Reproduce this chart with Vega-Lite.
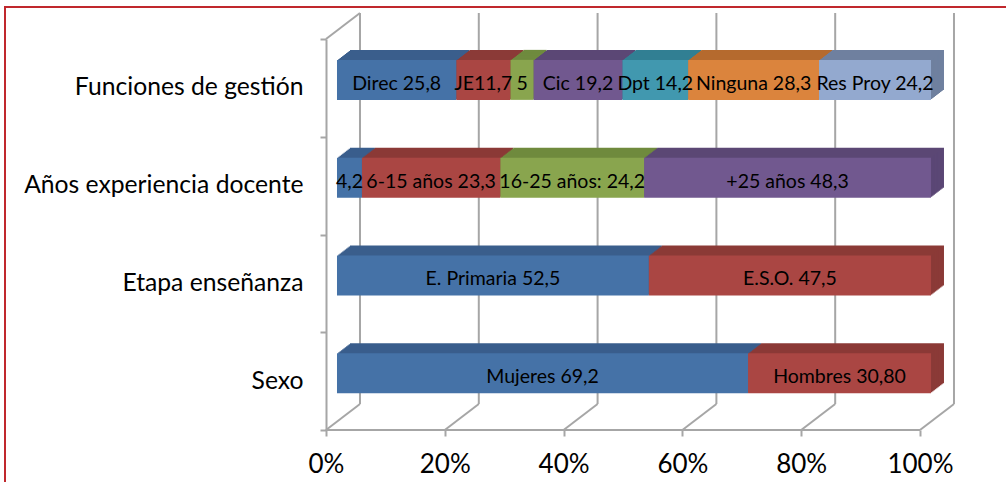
{
  "$schema": "https://vega.github.io/schema/vega-lite/v6.json",
  "width": 1007,
  "height": 481,
  "autosize": "none",
  "padding": {"left": 5, "top": 7, "right": -6, "bottom": -6},
  "background": "white",
  "config": {"view": {"stroke": "#C0282D", "strokeWidth": 2}, "font": "Lato"},
  "datasets": {
    "seg": [
      {"cat": "Funciones de gestión", "s": 1, "v": 25.8, "lab": "Direc 25,8"},
      {"cat": "Funciones de gestión", "s": 2, "v": 11.7, "lab": "JE11,7"},
      {"cat": "Funciones de gestión", "s": 3, "v": 5, "lab": "5"},
      {"cat": "Funciones de gestión", "s": 4, "v": 19.2, "lab": "Cic 19,2"},
      {"cat": "Funciones de gestión", "s": 5, "v": 14.2, "lab": "Dpt 14,2"},
      {"cat": "Funciones de gestión", "s": 6, "v": 28.3, "lab": "Ninguna 28,3"},
      {"cat": "Funciones de gestión", "s": 7, "v": 24.2, "lab": "Res Proy 24,2"},
      {"cat": "Años experiencia docente", "s": 1, "v": 4.2, "lab": "4,2"},
      {"cat": "Años experiencia docente", "s": 2, "v": 23.3, "lab": "6-15 años 23,3"},
      {"cat": "Años experiencia docente", "s": 3, "v": 24.2, "lab": "16-25 años: 24,2"},
      {"cat": "Años experiencia docente", "s": 4, "v": 48.3, "lab": "+25 años  48,3"},
      {"cat": "Etapa enseñanza", "s": 1, "v": 52.5, "lab": "E. Primaria 52,5"},
      {"cat": "Etapa enseñanza", "s": 2, "v": 47.5, "lab": "E.S.O.  47,5"},
      {"cat": "Sexo", "s": 1, "v": 69.2, "lab": "Mujeres 69,2"},
      {"cat": "Sexo", "s": 2, "v": 30.8, "lab": "Hombres 30,80"}
    ],
    "grid": [{"t": 0}, {"t": 0.2}, {"t": 0.4}, {"t": 0.6}, {"t": 0.8}, {"t": 1}],
    "corner": [{"t": 0}],
    "floor": [{"t0": 0, "t1": 1}]
  },
  "layer": [
    {
      "data": {"name": "grid"},
      "mark": {"type": "rule", "stroke": "#A6A6A6", "strokeWidth": 2, "xOffset": 34, "yOffset": -26, "y2Offset": -26},
      "encoding": {
        "x": {"field": "t", "type": "quantitative", "scale": {"domain": [-0.5404, 1.1549], "nice": false, "zero": false},
          "axis": {"values": [0, 0.2, 0.4, 0.6, 0.8, 1], "format": ".0%", "offset": -58, "domain": false, "grid": false, "tickColor": "#A6A6A6", "tickWidth": 2, "tickSize": 6, "labelFont": "Lato", "labelFontSize": 26, "labelColor": "#000000", "labelPadding": 15, "title": null}},
        "y": {"datum": "Funciones de gestión", "type": "nominal", "bandPosition": 0, "scale": {"type": "band", "domain": ["Funciones de gestión", "Años experiencia docente", "Etapa enseñanza", "Sexo"], "range": [32, 423], "paddingInner": 0, "paddingOuter": 0},
          "axis": {"offset": -321, "domainColor": "#A6A6A6", "domainWidth": 2, "tickColor": "#A6A6A6", "tickWidth": 2, "tickSize": 6, "tickBand": "extent", "grid": false, "labelFont": "Lato", "labelFontSize": 24.7, "labelColor": "#000000", "labelPadding": 17, "labelLimit": 400, "title": null}},
        "y2": {"datum": "Sexo", "bandPosition": 1}
      }
    },
    {
      "data": {"name": "grid"},
      "mark": {"type": "rule", "stroke": "#A6A6A6", "strokeWidth": 2, "x2Offset": 34, "y2Offset": -26},
      "encoding": {
        "x": {"field": "t", "type": "quantitative", "scale": {"domain": [-0.5404, 1.1549], "nice": false, "zero": false},
          "axis": {"values": [0, 0.2, 0.4, 0.6, 0.8, 1], "format": ".0%", "offset": -58, "domain": false, "grid": false, "tickColor": "#A6A6A6", "tickWidth": 2, "tickSize": 6, "labelFont": "Lato", "labelFontSize": 26, "labelColor": "#000000", "labelPadding": 15, "title": null}},
        "x2": {"field": "t"},
        "y": {"datum": "Sexo", "type": "nominal", "bandPosition": 1, "scale": {"type": "band", "domain": ["Funciones de gestión", "Años experiencia docente", "Etapa enseñanza", "Sexo"], "range": [32, 423], "paddingInner": 0, "paddingOuter": 0},
          "axis": {"offset": -321, "domainColor": "#A6A6A6", "domainWidth": 2, "tickColor": "#A6A6A6", "tickWidth": 2, "tickSize": 6, "tickBand": "extent", "grid": false, "labelFont": "Lato", "labelFontSize": 24.7, "labelColor": "#000000", "labelPadding": 17, "labelLimit": 400, "title": null}},
        "y2": {"datum": "Sexo", "bandPosition": 1}
      }
    },
    {
      "data": {"name": "corner"},
      "mark": {"type": "rule", "stroke": "#A6A6A6", "strokeWidth": 2, "x2Offset": 34, "y2Offset": -26},
      "encoding": {
        "x": {"field": "t", "type": "quantitative", "scale": {"domain": [-0.5404, 1.1549], "nice": false, "zero": false},
          "axis": {"values": [0, 0.2, 0.4, 0.6, 0.8, 1], "format": ".0%", "offset": -58, "domain": false, "grid": false, "tickColor": "#A6A6A6", "tickWidth": 2, "tickSize": 6, "labelFont": "Lato", "labelFontSize": 26, "labelColor": "#000000", "labelPadding": 15, "title": null}},
        "x2": {"field": "t"},
        "y": {"datum": "Funciones de gestión", "type": "nominal", "bandPosition": 0, "scale": {"type": "band", "domain": ["Funciones de gestión", "Años experiencia docente", "Etapa enseñanza", "Sexo"], "range": [32, 423], "paddingInner": 0, "paddingOuter": 0},
          "axis": {"offset": -321, "domainColor": "#A6A6A6", "domainWidth": 2, "tickColor": "#A6A6A6", "tickWidth": 2, "tickSize": 6, "tickBand": "extent", "grid": false, "labelFont": "Lato", "labelFontSize": 24.7, "labelColor": "#000000", "labelPadding": 17, "labelLimit": 400, "title": null}},
        "y2": {"datum": "Funciones de gestión", "bandPosition": 0}
      }
    },
    {
      "data": {"name": "floor"},
      "mark": {"type": "rule", "stroke": "#A6A6A6", "strokeWidth": 2},
      "encoding": {
        "x": {"field": "t0", "type": "quantitative", "scale": {"domain": [-0.5404, 1.1549], "nice": false, "zero": false},
          "axis": {"values": [0, 0.2, 0.4, 0.6, 0.8, 1], "format": ".0%", "offset": -58, "domain": false, "grid": false, "tickColor": "#A6A6A6", "tickWidth": 2, "tickSize": 6, "labelFont": "Lato", "labelFontSize": 26, "labelColor": "#000000", "labelPadding": 15, "title": null}},
        "x2": {"field": "t1"},
        "y": {"datum": "Sexo", "type": "nominal", "bandPosition": 1, "scale": {"type": "band", "domain": ["Funciones de gestión", "Años experiencia docente", "Etapa enseñanza", "Sexo"], "range": [32, 423], "paddingInner": 0, "paddingOuter": 0},
          "axis": {"offset": -321, "domainColor": "#A6A6A6", "domainWidth": 2, "tickColor": "#A6A6A6", "tickWidth": 2, "tickSize": 6, "tickBand": "extent", "grid": false, "labelFont": "Lato", "labelFontSize": 24.7, "labelColor": "#000000", "labelPadding": 17, "labelLimit": 400, "title": null}}
      }
    },
    {"data": {"name": "seg"}, "mark": {"type": "bar", "height": 40, "strokeWidth": 0, "xOffset": 24, "x2Offset": 24, "yOffset": -18, "y2Offset": -18},
      "encoding": {"x": {"field": "v", "type": "quantitative", "stack": "normalize", "scale": {"domain": [-0.5404, 1.1549], "nice": false, "zero": false},
          "axis": {"values": [0, 0.2, 0.4, 0.6, 0.8, 1], "format": ".0%", "offset": -58, "domain": false, "grid": false, "tickColor": "#A6A6A6", "tickWidth": 2, "tickSize": 6, "labelFont": "Lato", "labelFontSize": 26, "labelColor": "#000000", "labelPadding": 15, "title": null}},
        "y": {"field": "cat", "type": "nominal", "scale": {"type": "band", "domain": ["Funciones de gestión", "Años experiencia docente", "Etapa enseñanza", "Sexo"], "range": [32, 423], "paddingInner": 0, "paddingOuter": 0},
          "axis": {"offset": -321, "domainColor": "#A6A6A6", "domainWidth": 2, "tickColor": "#A6A6A6", "tickWidth": 2, "tickSize": 6, "tickBand": "extent", "grid": false, "labelFont": "Lato", "labelFontSize": 24.7, "labelColor": "#000000", "labelPadding": 17, "labelLimit": 400, "title": null}},
        "fill": {"field": "s", "type": "nominal", "scale": {"domain": [1, 2, 3, 4, 5, 6, 7], "range": ["#3A5E8C", "#8B3A37", "#6F8A3E", "#5B4775", "#317F93", "#B56A2E", "#6F809F"]}, "legend": null},
        "order": {"field": "s"}}},
    {"data": {"name": "seg"}, "mark": {"type": "bar", "height": 40, "strokeWidth": 0, "xOffset": 22.7, "x2Offset": 22.7, "yOffset": -17, "y2Offset": -17},
      "encoding": {"x": {"field": "v", "type": "quantitative", "stack": "normalize", "scale": {"domain": [-0.5404, 1.1549], "nice": false, "zero": false},
          "axis": {"values": [0, 0.2, 0.4, 0.6, 0.8, 1], "format": ".0%", "offset": -58, "domain": false, "grid": false, "tickColor": "#A6A6A6", "tickWidth": 2, "tickSize": 6, "labelFont": "Lato", "labelFontSize": 26, "labelColor": "#000000", "labelPadding": 15, "title": null}},
        "y": {"field": "cat", "type": "nominal", "scale": {"type": "band", "domain": ["Funciones de gestión", "Años experiencia docente", "Etapa enseñanza", "Sexo"], "range": [32, 423], "paddingInner": 0, "paddingOuter": 0},
          "axis": {"offset": -321, "domainColor": "#A6A6A6", "domainWidth": 2, "tickColor": "#A6A6A6", "tickWidth": 2, "tickSize": 6, "tickBand": "extent", "grid": false, "labelFont": "Lato", "labelFontSize": 24.7, "labelColor": "#000000", "labelPadding": 17, "labelLimit": 400, "title": null}},
        "fill": {"field": "s", "type": "nominal", "scale": {"domain": [1, 2, 3, 4, 5, 6, 7], "range": ["#3A5E8C", "#8B3A37", "#6F8A3E", "#5B4775", "#317F93", "#B56A2E", "#6F809F"]}, "legend": null},
        "order": {"field": "s"}}},
    {"data": {"name": "seg"}, "mark": {"type": "bar", "height": 40, "strokeWidth": 0, "xOffset": 21.4, "x2Offset": 21.4, "yOffset": -16, "y2Offset": -16},
      "encoding": {"x": {"field": "v", "type": "quantitative", "stack": "normalize", "scale": {"domain": [-0.5404, 1.1549], "nice": false, "zero": false},
          "axis": {"values": [0, 0.2, 0.4, 0.6, 0.8, 1], "format": ".0%", "offset": -58, "domain": false, "grid": false, "tickColor": "#A6A6A6", "tickWidth": 2, "tickSize": 6, "labelFont": "Lato", "labelFontSize": 26, "labelColor": "#000000", "labelPadding": 15, "title": null}},
        "y": {"field": "cat", "type": "nominal", "scale": {"type": "band", "domain": ["Funciones de gestión", "Años experiencia docente", "Etapa enseñanza", "Sexo"], "range": [32, 423], "paddingInner": 0, "paddingOuter": 0},
          "axis": {"offset": -321, "domainColor": "#A6A6A6", "domainWidth": 2, "tickColor": "#A6A6A6", "tickWidth": 2, "tickSize": 6, "tickBand": "extent", "grid": false, "labelFont": "Lato", "labelFontSize": 24.7, "labelColor": "#000000", "labelPadding": 17, "labelLimit": 400, "title": null}},
        "fill": {"field": "s", "type": "nominal", "scale": {"domain": [1, 2, 3, 4, 5, 6, 7], "range": ["#3A5E8C", "#8B3A37", "#6F8A3E", "#5B4775", "#317F93", "#B56A2E", "#6F809F"]}, "legend": null},
        "order": {"field": "s"}}},
    {"data": {"name": "seg"}, "mark": {"type": "bar", "height": 40, "strokeWidth": 0, "xOffset": 20.1, "x2Offset": 20.1, "yOffset": -15, "y2Offset": -15},
      "encoding": {"x": {"field": "v", "type": "quantitative", "stack": "normalize", "scale": {"domain": [-0.5404, 1.1549], "nice": false, "zero": false},
          "axis": {"values": [0, 0.2, 0.4, 0.6, 0.8, 1], "format": ".0%", "offset": -58, "domain": false, "grid": false, "tickColor": "#A6A6A6", "tickWidth": 2, "tickSize": 6, "labelFont": "Lato", "labelFontSize": 26, "labelColor": "#000000", "labelPadding": 15, "title": null}},
        "y": {"field": "cat", "type": "nominal", "scale": {"type": "band", "domain": ["Funciones de gestión", "Años experiencia docente", "Etapa enseñanza", "Sexo"], "range": [32, 423], "paddingInner": 0, "paddingOuter": 0},
          "axis": {"offset": -321, "domainColor": "#A6A6A6", "domainWidth": 2, "tickColor": "#A6A6A6", "tickWidth": 2, "tickSize": 6, "tickBand": "extent", "grid": false, "labelFont": "Lato", "labelFontSize": 24.7, "labelColor": "#000000", "labelPadding": 17, "labelLimit": 400, "title": null}},
        "fill": {"field": "s", "type": "nominal", "scale": {"domain": [1, 2, 3, 4, 5, 6, 7], "range": ["#3A5E8C", "#8B3A37", "#6F8A3E", "#5B4775", "#317F93", "#B56A2E", "#6F809F"]}, "legend": null},
        "order": {"field": "s"}}},
    {"data": {"name": "seg"}, "mark": {"type": "bar", "height": 40, "strokeWidth": 0, "xOffset": 18.8, "x2Offset": 18.8, "yOffset": -14, "y2Offset": -14},
      "encoding": {"x": {"field": "v", "type": "quantitative", "stack": "normalize", "scale": {"domain": [-0.5404, 1.1549], "nice": false, "zero": false},
          "axis": {"values": [0, 0.2, 0.4, 0.6, 0.8, 1], "format": ".0%", "offset": -58, "domain": false, "grid": false, "tickColor": "#A6A6A6", "tickWidth": 2, "tickSize": 6, "labelFont": "Lato", "labelFontSize": 26, "labelColor": "#000000", "labelPadding": 15, "title": null}},
        "y": {"field": "cat", "type": "nominal", "scale": {"type": "band", "domain": ["Funciones de gestión", "Años experiencia docente", "Etapa enseñanza", "Sexo"], "range": [32, 423], "paddingInner": 0, "paddingOuter": 0},
          "axis": {"offset": -321, "domainColor": "#A6A6A6", "domainWidth": 2, "tickColor": "#A6A6A6", "tickWidth": 2, "tickSize": 6, "tickBand": "extent", "grid": false, "labelFont": "Lato", "labelFontSize": 24.7, "labelColor": "#000000", "labelPadding": 17, "labelLimit": 400, "title": null}},
        "fill": {"field": "s", "type": "nominal", "scale": {"domain": [1, 2, 3, 4, 5, 6, 7], "range": ["#3A5E8C", "#8B3A37", "#6F8A3E", "#5B4775", "#317F93", "#B56A2E", "#6F809F"]}, "legend": null},
        "order": {"field": "s"}}},
    {"data": {"name": "seg"}, "mark": {"type": "bar", "height": 40, "strokeWidth": 0, "xOffset": 17.5, "x2Offset": 17.5, "yOffset": -13, "y2Offset": -13},
      "encoding": {"x": {"field": "v", "type": "quantitative", "stack": "normalize", "scale": {"domain": [-0.5404, 1.1549], "nice": false, "zero": false},
          "axis": {"values": [0, 0.2, 0.4, 0.6, 0.8, 1], "format": ".0%", "offset": -58, "domain": false, "grid": false, "tickColor": "#A6A6A6", "tickWidth": 2, "tickSize": 6, "labelFont": "Lato", "labelFontSize": 26, "labelColor": "#000000", "labelPadding": 15, "title": null}},
        "y": {"field": "cat", "type": "nominal", "scale": {"type": "band", "domain": ["Funciones de gestión", "Años experiencia docente", "Etapa enseñanza", "Sexo"], "range": [32, 423], "paddingInner": 0, "paddingOuter": 0},
          "axis": {"offset": -321, "domainColor": "#A6A6A6", "domainWidth": 2, "tickColor": "#A6A6A6", "tickWidth": 2, "tickSize": 6, "tickBand": "extent", "grid": false, "labelFont": "Lato", "labelFontSize": 24.7, "labelColor": "#000000", "labelPadding": 17, "labelLimit": 400, "title": null}},
        "fill": {"field": "s", "type": "nominal", "scale": {"domain": [1, 2, 3, 4, 5, 6, 7], "range": ["#3A5E8C", "#8B3A37", "#6F8A3E", "#5B4775", "#317F93", "#B56A2E", "#6F809F"]}, "legend": null},
        "order": {"field": "s"}}},
    {"data": {"name": "seg"}, "mark": {"type": "bar", "height": 40, "strokeWidth": 0, "xOffset": 16.2, "x2Offset": 16.2, "yOffset": -12, "y2Offset": -12},
      "encoding": {"x": {"field": "v", "type": "quantitative", "stack": "normalize", "scale": {"domain": [-0.5404, 1.1549], "nice": false, "zero": false},
          "axis": {"values": [0, 0.2, 0.4, 0.6, 0.8, 1], "format": ".0%", "offset": -58, "domain": false, "grid": false, "tickColor": "#A6A6A6", "tickWidth": 2, "tickSize": 6, "labelFont": "Lato", "labelFontSize": 26, "labelColor": "#000000", "labelPadding": 15, "title": null}},
        "y": {"field": "cat", "type": "nominal", "scale": {"type": "band", "domain": ["Funciones de gestión", "Años experiencia docente", "Etapa enseñanza", "Sexo"], "range": [32, 423], "paddingInner": 0, "paddingOuter": 0},
          "axis": {"offset": -321, "domainColor": "#A6A6A6", "domainWidth": 2, "tickColor": "#A6A6A6", "tickWidth": 2, "tickSize": 6, "tickBand": "extent", "grid": false, "labelFont": "Lato", "labelFontSize": 24.7, "labelColor": "#000000", "labelPadding": 17, "labelLimit": 400, "title": null}},
        "fill": {"field": "s", "type": "nominal", "scale": {"domain": [1, 2, 3, 4, 5, 6, 7], "range": ["#3A5E8C", "#8B3A37", "#6F8A3E", "#5B4775", "#317F93", "#B56A2E", "#6F809F"]}, "legend": null},
        "order": {"field": "s"}}},
    {"data": {"name": "seg"}, "mark": {"type": "bar", "height": 40, "strokeWidth": 0, "xOffset": 14.9, "x2Offset": 14.9, "yOffset": -11, "y2Offset": -11},
      "encoding": {"x": {"field": "v", "type": "quantitative", "stack": "normalize", "scale": {"domain": [-0.5404, 1.1549], "nice": false, "zero": false},
          "axis": {"values": [0, 0.2, 0.4, 0.6, 0.8, 1], "format": ".0%", "offset": -58, "domain": false, "grid": false, "tickColor": "#A6A6A6", "tickWidth": 2, "tickSize": 6, "labelFont": "Lato", "labelFontSize": 26, "labelColor": "#000000", "labelPadding": 15, "title": null}},
        "y": {"field": "cat", "type": "nominal", "scale": {"type": "band", "domain": ["Funciones de gestión", "Años experiencia docente", "Etapa enseñanza", "Sexo"], "range": [32, 423], "paddingInner": 0, "paddingOuter": 0},
          "axis": {"offset": -321, "domainColor": "#A6A6A6", "domainWidth": 2, "tickColor": "#A6A6A6", "tickWidth": 2, "tickSize": 6, "tickBand": "extent", "grid": false, "labelFont": "Lato", "labelFontSize": 24.7, "labelColor": "#000000", "labelPadding": 17, "labelLimit": 400, "title": null}},
        "fill": {"field": "s", "type": "nominal", "scale": {"domain": [1, 2, 3, 4, 5, 6, 7], "range": ["#3A5E8C", "#8B3A37", "#6F8A3E", "#5B4775", "#317F93", "#B56A2E", "#6F809F"]}, "legend": null},
        "order": {"field": "s"}}},
    {"data": {"name": "seg"}, "mark": {"type": "bar", "height": 40, "strokeWidth": 0, "xOffset": 13.6, "x2Offset": 13.6, "yOffset": -10, "y2Offset": -10},
      "encoding": {"x": {"field": "v", "type": "quantitative", "stack": "normalize", "scale": {"domain": [-0.5404, 1.1549], "nice": false, "zero": false},
          "axis": {"values": [0, 0.2, 0.4, 0.6, 0.8, 1], "format": ".0%", "offset": -58, "domain": false, "grid": false, "tickColor": "#A6A6A6", "tickWidth": 2, "tickSize": 6, "labelFont": "Lato", "labelFontSize": 26, "labelColor": "#000000", "labelPadding": 15, "title": null}},
        "y": {"field": "cat", "type": "nominal", "scale": {"type": "band", "domain": ["Funciones de gestión", "Años experiencia docente", "Etapa enseñanza", "Sexo"], "range": [32, 423], "paddingInner": 0, "paddingOuter": 0},
          "axis": {"offset": -321, "domainColor": "#A6A6A6", "domainWidth": 2, "tickColor": "#A6A6A6", "tickWidth": 2, "tickSize": 6, "tickBand": "extent", "grid": false, "labelFont": "Lato", "labelFontSize": 24.7, "labelColor": "#000000", "labelPadding": 17, "labelLimit": 400, "title": null}},
        "fill": {"field": "s", "type": "nominal", "scale": {"domain": [1, 2, 3, 4, 5, 6, 7], "range": ["#3A5E8C", "#8B3A37", "#6F8A3E", "#5B4775", "#317F93", "#B56A2E", "#6F809F"]}, "legend": null},
        "order": {"field": "s"}}},
    {"data": {"name": "seg"}, "mark": {"type": "bar", "height": 40, "strokeWidth": 0, "xOffset": 12.3, "x2Offset": 12.3, "yOffset": -9, "y2Offset": -9},
      "encoding": {"x": {"field": "v", "type": "quantitative", "stack": "normalize", "scale": {"domain": [-0.5404, 1.1549], "nice": false, "zero": false},
          "axis": {"values": [0, 0.2, 0.4, 0.6, 0.8, 1], "format": ".0%", "offset": -58, "domain": false, "grid": false, "tickColor": "#A6A6A6", "tickWidth": 2, "tickSize": 6, "labelFont": "Lato", "labelFontSize": 26, "labelColor": "#000000", "labelPadding": 15, "title": null}},
        "y": {"field": "cat", "type": "nominal", "scale": {"type": "band", "domain": ["Funciones de gestión", "Años experiencia docente", "Etapa enseñanza", "Sexo"], "range": [32, 423], "paddingInner": 0, "paddingOuter": 0},
          "axis": {"offset": -321, "domainColor": "#A6A6A6", "domainWidth": 2, "tickColor": "#A6A6A6", "tickWidth": 2, "tickSize": 6, "tickBand": "extent", "grid": false, "labelFont": "Lato", "labelFontSize": 24.7, "labelColor": "#000000", "labelPadding": 17, "labelLimit": 400, "title": null}},
        "fill": {"field": "s", "type": "nominal", "scale": {"domain": [1, 2, 3, 4, 5, 6, 7], "range": ["#3A5E8C", "#8B3A37", "#6F8A3E", "#5B4775", "#317F93", "#B56A2E", "#6F809F"]}, "legend": null},
        "order": {"field": "s"}}},
    {"data": {"name": "seg"}, "mark": {"type": "bar", "height": 40, "strokeWidth": 0, "xOffset": 11, "x2Offset": 11, "yOffset": -8, "y2Offset": -8},
      "encoding": {
        "x": {"field": "v", "type": "quantitative", "stack": "normalize", "scale": {"domain": [-0.5404, 1.1549], "nice": false, "zero": false},
          "axis": {"values": [0, 0.2, 0.4, 0.6, 0.8, 1], "format": ".0%", "offset": -58, "domain": false, "grid": false, "tickColor": "#A6A6A6", "tickWidth": 2, "tickSize": 6, "labelFont": "Lato", "labelFontSize": 26, "labelColor": "#000000", "labelPadding": 15, "title": null}},
        "y": {"field": "cat", "type": "nominal", "scale": {"type": "band", "domain": ["Funciones de gestión", "Años experiencia docente", "Etapa enseñanza", "Sexo"], "range": [32, 423], "paddingInner": 0, "paddingOuter": 0},
          "axis": {"offset": -321, "domainColor": "#A6A6A6", "domainWidth": 2, "tickColor": "#A6A6A6", "tickWidth": 2, "tickSize": 6, "tickBand": "extent", "grid": false, "labelFont": "Lato", "labelFontSize": 24.7, "labelColor": "#000000", "labelPadding": 17, "labelLimit": 400, "title": null}},
        "color": {"field": "s", "type": "nominal", "scale": {"domain": [1, 2, 3, 4, 5, 6, 7], "range": ["#4572A7", "#AA4643", "#89A54E", "#71588F", "#4198AF", "#DB843D", "#93A9CF"]}, "legend": null},
        "order": {"field": "s"}}},
    {"data": {"name": "seg"}, "mark": {"type": "text", "font": "Lato", "fontSize": 19.5, "fill": "#000000", "xOffset": 11, "yOffset": -4, "baseline": "middle", "align": "center"},
      "encoding": {
        "x": {"field": "v", "type": "quantitative", "stack": "normalize", "bandPosition": 0.5, "scale": {"domain": [-0.5404, 1.1549], "nice": false, "zero": false},
          "axis": {"values": [0, 0.2, 0.4, 0.6, 0.8, 1], "format": ".0%", "offset": -58, "domain": false, "grid": false, "tickColor": "#A6A6A6", "tickWidth": 2, "tickSize": 6, "labelFont": "Lato", "labelFontSize": 26, "labelColor": "#000000", "labelPadding": 15, "title": null}},
        "y": {"field": "cat", "type": "nominal", "scale": {"type": "band", "domain": ["Funciones de gestión", "Años experiencia docente", "Etapa enseñanza", "Sexo"], "range": [32, 423], "paddingInner": 0, "paddingOuter": 0},
          "axis": {"offset": -321, "domainColor": "#A6A6A6", "domainWidth": 2, "tickColor": "#A6A6A6", "tickWidth": 2, "tickSize": 6, "tickBand": "extent", "grid": false, "labelFont": "Lato", "labelFontSize": 24.7, "labelColor": "#000000", "labelPadding": 17, "labelLimit": 400, "title": null}},
        "text": {"field": "lab"},
        "order": {"field": "s"}}}
  ]
}
